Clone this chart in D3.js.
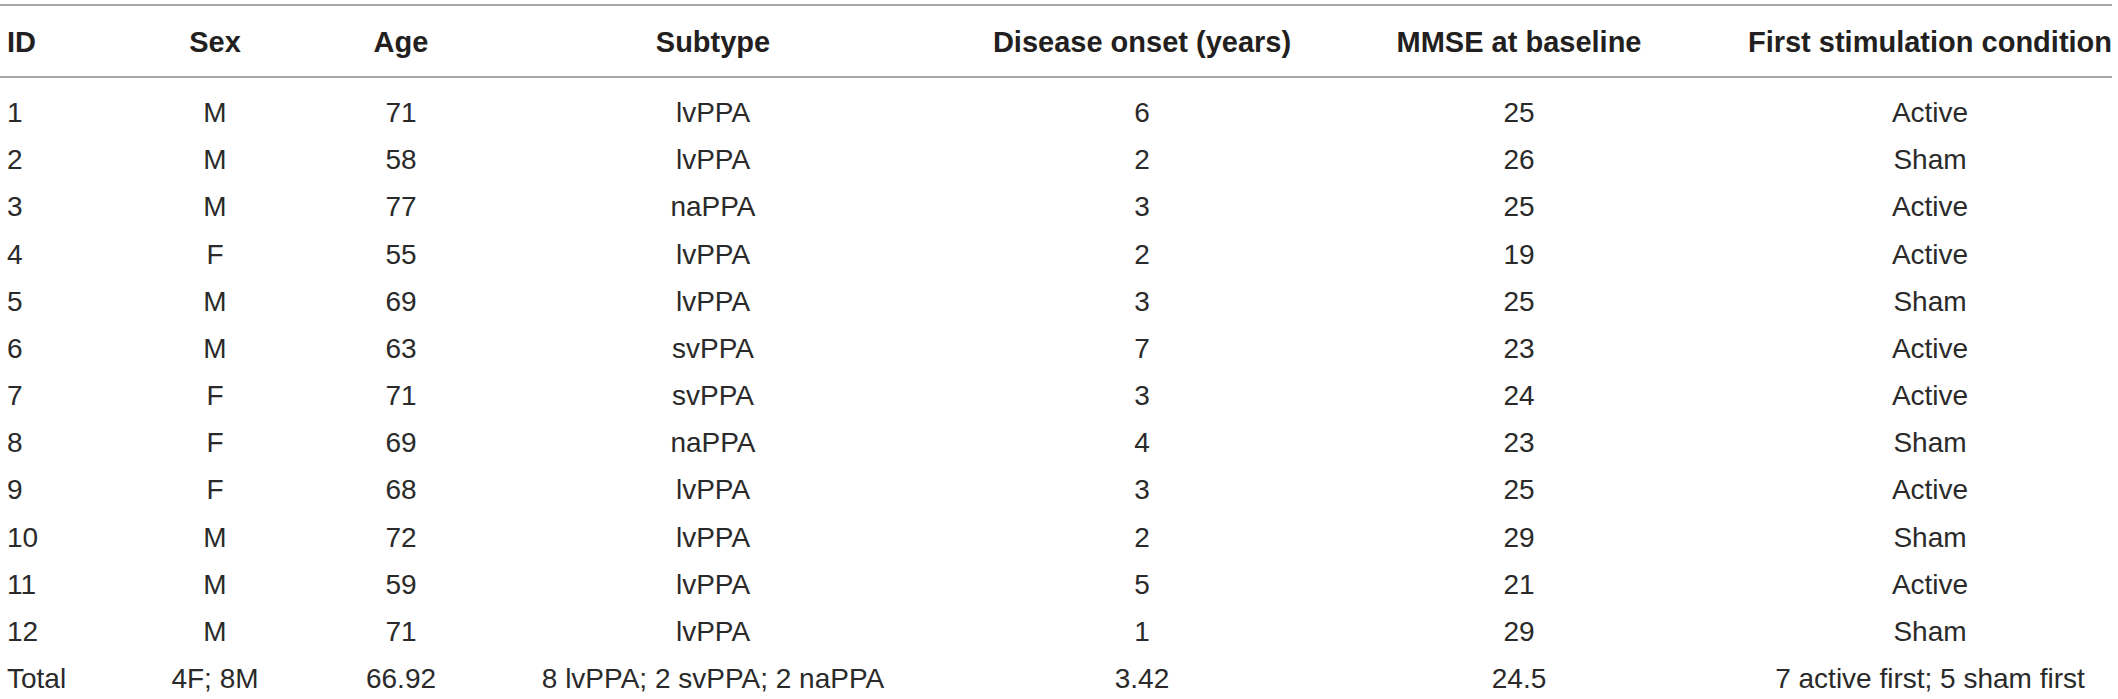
<!DOCTYPE html>
<html>
<head>
<meta charset="utf-8">
<script src="https://cdn.jsdelivr.net/npm/d3@7"></script>
<style>
  html, body { margin: 0; padding: 0; background: #fff; }
  svg { display: block; }
</style>
</head>
<body>
<div id="table"></div>
<script>
// table data, one array per column
var headers = ["ID", "Sex", "Age", "Subtype", "Disease onset (years)", "MMSE at baseline", "First stimulation condition"];
var ids = ["1", "2", "3", "4", "5", "6", "7", "8", "9", "10", "11", "12"];
var sex = ["M", "M", "M", "F", "M", "M", "F", "F", "F", "M", "M", "M"];
var age = [71, 58, 77, 55, 69, 63, 71, 69, 68, 72, 59, 71];
var subtype = ["lvPPA", "lvPPA", "naPPA", "lvPPA", "lvPPA", "svPPA", "svPPA", "naPPA", "lvPPA", "lvPPA", "lvPPA", "lvPPA"];
var onset = [6, 2, 3, 2, 3, 7, 3, 4, 3, 2, 5, 1];
var mmse = [25, 26, 25, 19, 25, 23, 24, 23, 25, 29, 21, 29];
var firstStim = ["Active", "Sham", "Active", "Active", "Sham", "Active", "Active", "Sham", "Active", "Sham", "Active", "Sham"];
var totals = ["Total", "4F; 8M", "66.92", "8 lvPPA; 2 svPPA; 2 naPPA", "3.42", "24.5", "7 active first; 5 sham first"];

var width = 2118, height = 699;

// build rows from the column arrays
var rows = ids.map(function(id, i) {
  return [id, sex[i], age[i], subtype[i], onset[i], mmse[i], firstStim[i]];
});
rows.push(totals);

var svg = d3.select("#table").append("svg")
    .attr("width", width)
    .attr("height", height);

// column anchors (ID is left aligned, the rest centred)
var colX = d3.scaleOrdinal()
    .domain(d3.range(headers.length))
    .range([7, 215, 401, 713, 1142, 1519, 1930]);
var anchor = function(c) { return c === 0 ? "start" : "middle"; };

// row baselines
var y = d3.scaleLinear()
    .domain([0, rows.length - 1])
    .range([122, 688]);

// rules above and below the header
svg.selectAll("line.rule")
  .data([5, 77])
  .enter().append("line")
    .attr("class", "rule")
    .attr("x1", 0)
    .attr("x2", 2112)
    .attr("y1", function(d) { return d; })
    .attr("y2", function(d) { return d; })
    .attr("stroke", "#8a8a8a")
    .attr("stroke-width", 1.5);

svg.selectAll("text.head")
  .data(headers)
  .enter().append("text")
    .attr("class", "head")
    .attr("x", function(d, c) { return colX(c); })
    .attr("y", 52)
    .attr("text-anchor", function(d, c) { return anchor(c); })
    .attr("font-family", "'Liberation Sans', Arial, sans-serif")
    .attr("font-weight", "bold")
    .attr("font-size", "29px")
    .attr("fill", "#231f20")
    .text(function(d) { return d; });

var rowG = svg.selectAll("g.row")
  .data(rows)
  .enter().append("g")
    .attr("class", "row")
    .attr("transform", function(d, i) { return "translate(0," + y(i) + ")"; });

rowG.selectAll("text")
  .data(function(d) { return d; })
  .enter().append("text")
    .attr("x", function(d, c) { return colX(c); })
    .attr("text-anchor", function(d, c) { return anchor(c); })
    .attr("font-family", "'Liberation Sans', Arial, sans-serif")
    .attr("font-size", "28px")
    .attr("fill", "#2a2a2a")
    .text(function(d) { return d; });
</script>
</body>
</html>
